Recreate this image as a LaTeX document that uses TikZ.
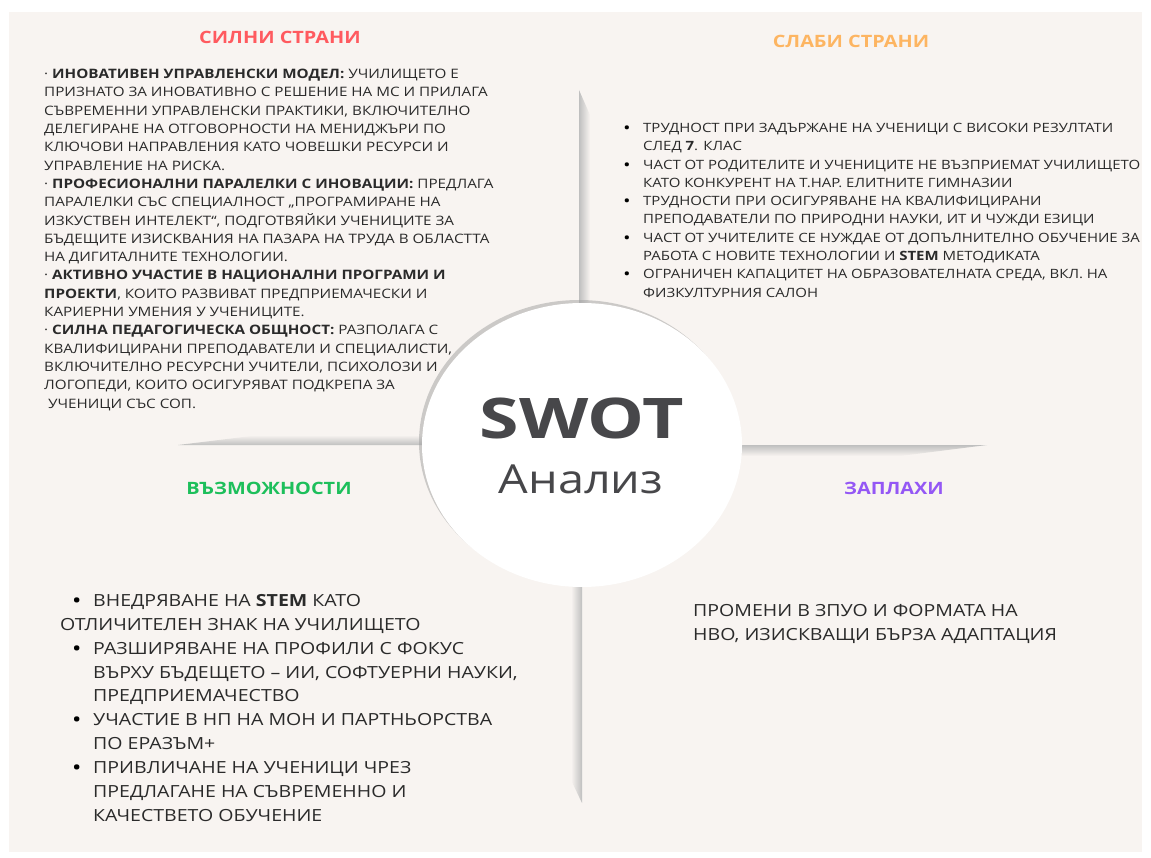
\documentclass[tikz,border=0pt]{standalone}
\usepackage{fontspec}
\setmainfont[FakeStretch=1.17]{Open Sans}
\newfontfamily\swotfont[FakeStretch=1.28]{Open Sans}
\usetikzlibrary{shadows,shapes.geometric}
\definecolor{paper}{HTML}{F8F4F1}
\definecolor{ink}{HTML}{2A2A2A}
\definecolor{swgray}{HTML}{47474A}
\definecolor{swred}{HTML}{FF5A5F}
\definecolor{sworange}{HTML}{FDB562}
\definecolor{swgreen}{HTML}{1DBF5B}
\definecolor{swpurple}{HTML}{9457F5}
\newcommand\bul[1]{\makebox[#1][l]{\hspace*{2pt}\textcolor{black}{\bfseries •}}}
\tikzset{
  txt/.style={font=\fontsize{13}{18.3}\selectfont,text=ink,align=left,inner sep=0pt,anchor=north west},
  bigtxt/.style={txt,font=\fontsize{16.7}{23.9}\selectfont},
  head/.style={font=\fontsize{17}{20}\selectfont\bfseries,inner sep=0pt},
}
\begin{document}
\begin{tikzpicture}[x=1pt,y=-1pt]
\useasboundingbox (0,0) rectangle (1151,858);
\fill[white] (0,0) rectangle (1151,858);
\fill[paper] (9,12) rectangle (1142,852);
\shade[left color=gray!50,right color=paper] (579,90) -- (579,305) -- (590,305) -- (590,115) -- cycle;
\shade[right color=gray!50,left color=paper] (582,585) -- (582,803) -- (571,780) -- (571,585) -- cycle;
\shade[bottom color=gray!50,top color=paper] (178,445) -- (260,435) -- (430,435) -- (430,445) -- cycle;
\shade[top color=gray!50,bottom color=paper] (735,445) -- (987,445) -- (900,456) -- (735,456) -- cycle;
\foreach\n/\x/\y/\c/\t in {strongT/280/37/swred/СИЛНИ СТРАНИ,weakT/851/41/sworange/СЛАБИ СТРАНИ,
  oppT/269/488/swgreen/ВЪЗМОЖНОСТИ,threatT/894/488/swpurple/ЗАПЛАХИ}
  \node[head,text=\c] (\n) at (\x,\y) {\t};
\node[txt] (strong) at (44,69) {%
· \textbf{ИНОВАТИВЕН УПРАВЛЕНСКИ МОДЕЛ:} УЧИЛИЩЕТО Е\\
ПРИЗНАТО ЗА ИНОВАТИВНО С РЕШЕНИЕ НА МС И ПРИЛАГА\\
СЪВРЕМЕННИ УПРАВЛЕНСКИ ПРАКТИКИ, ВКЛЮЧИТЕЛНО\\
ДЕЛЕГИРАНЕ НА ОТГОВОРНОСТИ НА МЕНИДЖЪРИ ПО\\
КЛЮЧОВИ НАПРАВЛЕНИЯ КАТО ЧОВЕШКИ РЕСУРСИ И\\
УПРАВЛЕНИЕ НА РИСКА.\\
· \textbf{ПРОФЕСИОНАЛНИ ПАРАЛЕЛКИ С ИНОВАЦИИ:} ПРЕДЛАГА\\
ПАРАЛЕЛКИ СЪС СПЕЦИАЛНОСТ „ПРОГРАМИРАНЕ НА\\
ИЗКУСТВЕН ИНТЕЛЕКТ“, ПОДГОТВЯЙКИ УЧЕНИЦИТЕ ЗА\\
БЪДЕЩИТЕ ИЗИСКВАНИЯ НА ПАЗАРА НА ТРУДА В ОБЛАСТТА\\
НА ДИГИТАЛНИТЕ ТЕХНОЛОГИИ.\\
· \textbf{АКТИВНО УЧАСТИЕ В НАЦИОНАЛНИ ПРОГРАМИ И}\\
\textbf{ПРОЕКТИ}, КОИТО РАЗВИВАТ ПРЕДПРИЕМАЧЕСКИ И\\
КАРИЕРНИ УМЕНИЯ У УЧЕНИЦИТЕ.\\
· \textbf{СИЛНА ПЕДАГОГИЧЕСКА ОБЩНОСТ:} РАЗПОЛАГА С\\
КВАЛИФИЦИРАНИ ПРЕПОДАВАТЕЛИ И СПЕЦИАЛИСТИ,\\
ВКЛЮЧИТЕЛНО РЕСУРСНИ УЧИТЕЛИ, ПСИХОЛОЗИ И\\
ЛОГОПЕДИ, КОИТО ОСИГУРЯВАТ ПОДКРЕПА ЗА\\
\ УЧЕНИЦИ СЪС СОП.};
\node[txt,font=\fontsize{12.8}{18.3}\selectfont] (weak) at (622,123) {%
\bul{21pt}ТРУДНОСТ ПРИ ЗАДЪРЖАНЕ НА УЧЕНИЦИ С ВИСОКИ РЕЗУЛТАТИ\\
\hspace*{21pt}СЛЕД \textbf{7}. КЛАС\\
\bul{21pt}ЧАСТ ОТ РОДИТЕЛИТЕ И УЧЕНИЦИТЕ НЕ ВЪЗПРИЕМАТ УЧИЛИЩЕТО\\
\hspace*{21pt}КАТО КОНКУРЕНТ НА Т.НАР. ЕЛИТНИТЕ ГИМНАЗИИ\\
\bul{21pt}ТРУДНОСТИ ПРИ ОСИГУРЯВАНЕ НА КВАЛИФИЦИРАНИ\\
\hspace*{21pt}ПРЕПОДАВАТЕЛИ ПО ПРИРОДНИ НАУКИ, ИТ И ЧУЖДИ ЕЗИЦИ\\
\bul{21pt}ЧАСТ ОТ УЧИТЕЛИТЕ СЕ НУЖДАЕ ОТ ДОПЪЛНИТЕЛНО ОБУЧЕНИЕ ЗА\\
\hspace*{21pt}РАБОТА С НОВИТЕ ТЕХНОЛОГИИ И \textbf{STEM} МЕТОДИКАТА\\
\bul{21pt}ОГРАНИЧЕН КАПАЦИТЕТ НА ОБРАЗОВАТЕЛНАТА СРЕДА, ВКЛ. НА\\
\hspace*{21pt}ФИЗКУЛТУРНИЯ САЛОН};
\node[bigtxt] (opp) at (60,594) {%
\hspace*{11pt}\bul{22pt}ВНЕДРЯВАНЕ НА \textbf{STEM} КАТО\\
ОТЛИЧИТЕЛЕН ЗНАК НА УЧИЛИЩЕТО\\
\hspace*{11pt}\bul{22pt}РАЗШИРЯВАНЕ НА ПРОФИЛИ С ФОКУС\\
\hspace*{33pt}ВЪРХУ БЪДЕЩЕТО – ИИ, СОФТУЕРНИ НАУКИ,\\
\hspace*{33pt}ПРЕДПРИЕМАЧЕСТВО\\
\hspace*{11pt}\bul{22pt}УЧАСТИЕ В НП НА МОН И ПАРТНЬОРСТВА\\
\hspace*{33pt}ПО ЕРАЗЪМ+\\
\hspace*{11pt}\bul{22pt}ПРИВЛИЧАНЕ НА УЧЕНИЦИ ЧРЕЗ\\
\hspace*{33pt}ПРЕДЛАГАНЕ НА СЪВРЕМЕННО И\\
\hspace*{33pt}КАЧЕСТВЕТО ОБУЧЕНИЕ};
\node[bigtxt] (threat) at (693,604) {%
ПРОМЕНИ В ЗПУО И ФОРМАТА НА\\
НВО, ИЗИСКВАЩИ БЪРЗА АДАПТАЦИЯ};
\node[draw=none,fill=white,ellipse,minimum width=320pt,minimum height=284pt,inner sep=0pt,
  drop shadow={shadow xshift=-3pt,shadow yshift=3pt,fill=gray!75}] (swot) at (582,445) {};
\node[font=\swotfont\fontsize{56}{60}\selectfont\bfseries,text=swgray,inner sep=0pt] (swotA) at (582,418) {SWOT};
\node[font=\fontsize{40}{44}\selectfont,text=swgray,inner sep=0pt,anchor=base] (swotB) at (581,493) {Анализ};
\end{tikzpicture}
\end{document}
